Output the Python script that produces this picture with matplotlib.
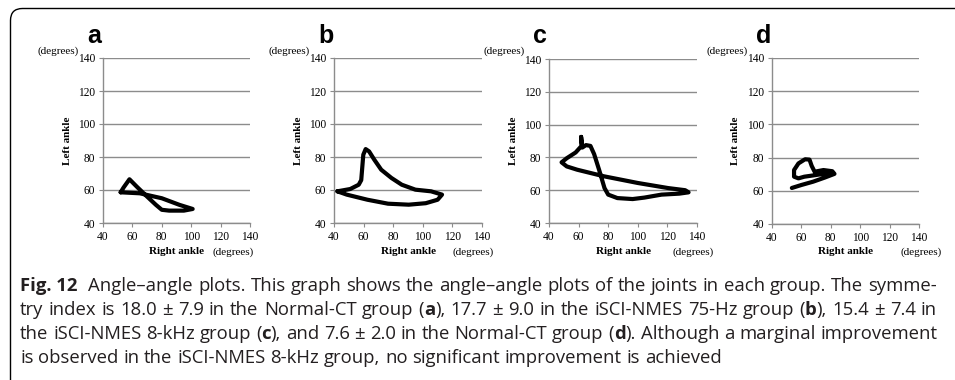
import matplotlib
matplotlib.use('Agg')
import matplotlib.pyplot as plt
from matplotlib.patches import FancyBboxPatch
from matplotlib.transforms import IdentityTransform

# angle-angle loops (right ankle, left ankle) in degrees
a_right = [52, 65, 80, 92, 101, 95, 85, 80, 76, 70, 63, 58, 56, 54, 52]
a_left = [58.6, 58, 55, 51, 48.5, 47.5, 47.5, 48, 51, 56, 62, 66.5, 64, 61.5, 58.6]

b_right = [42.3, 51, 56.7, 58.4, 59.8, 61.4, 63.7, 67.2, 71.9, 78.8, 85.8, 95, 105.6, 113,
           110, 102, 90.5, 76.5, 62.6, 48.6, 42.3]
b_left = [59.2, 60.6, 63.2, 66, 81.4, 84.8, 83.4, 78.4, 72.3, 67.3, 63.2, 60.2, 59.2, 57.2,
          54.1, 52, 51.1, 51.7, 54.1, 57.2, 59.2]

c_right = [61.7, 62, 58, 52, 48.5, 52, 59, 77, 100, 120.5, 132, 134.3, 128, 116, 104.5, 96.5,
           86.2, 80, 77.5, 74, 70.5, 68, 65, 62.5, 61.7]
c_left = [92.5, 87, 83, 79.5, 77, 74.5, 72.5, 68.5, 64.4, 61.3, 60, 58.7, 57.9, 57.3, 55.5, 54.6,
          55.2, 57.3, 61.3, 72, 82, 87, 87.5, 86, 92.5]

d_right = [53.5, 60, 68, 76, 82.5, 81, 75, 69, 67, 65.5, 62.5, 58, 55, 55, 58, 62, 66, 72, 80]
d_left = [61.7, 63.5, 65.5, 68, 70.2, 71.8, 72.5, 71.5, 75, 78.8, 79, 76.5, 72.5, 68.5, 67.5,
          68.5, 69, 69.8, 70.5]

panel_letters = ['a', 'b', 'c', 'd']
panel_data = [(a_right, a_left), (b_right, b_left), (c_right, c_left), (d_right, d_left)]
ticks = [40, 60, 80, 100, 120, 140]

cap_lines = [
    "*Fig.\u00a012* Angle–angle plots. This graph shows the angle–angle plots of the joints in each group. The symme-",
    "try index is 18.0 ± 7.9 in the Normal-CT group (*a*), 17.7 ± 9.0 in the iSCI-NMES 75-Hz group (*b*), 15.4 ± 7.4 in",
    "the iSCI-NMES 8-kHz group (*c*), and 7.6 ± 2.0 in the Normal-CT group (*d*). Although a marginal improvement",
    "is observed in the iSCI-NMES 8-kHz group, no significant improvement is achieved",
]

W, H = 955, 380
fig = plt.figure(figsize=(W / 100, H / 100), dpi=100)


def fx(x):
    return x / W


def fy(y):
    return 1 - y / H


# axes boxes in pixels: left, top, right, bottom
boxes = [(103, 58, 250, 223), (334, 58, 482, 223), (549, 59, 697, 223), (772, 58, 919, 224)]
deg_x = [212, 452, 672, 900]
serif = 'Liberation Serif'
grey = '#8c8c8c'

for k, (l, t, r, b) in enumerate(boxes):
    ax = fig.add_axes([fx(l), fy(b), (r - l) / W, (b - t) / H])
    xs, ys = panel_data[k]
    ax.plot(xs, ys, color='black', lw=3.0, solid_joinstyle='round', solid_capstyle='round')
    ax.set_xlim(40, 140)
    ax.set_ylim(40, 140)
    ax.set_xticks(ticks)
    ax.set_yticks(ticks)
    ax.yaxis.grid(True, color=grey, lw=1.0)
    ax.set_axisbelow(True)
    for s in ['top', 'right']:
        ax.spines[s].set_visible(False)
    for s in ['left', 'bottom']:
        ax.spines[s].set_color(grey)
        ax.spines[s].set_linewidth(1.0)
    ax.tick_params(direction='out', length=3, width=0.8, color=grey, labelsize=8.3, pad=2.5)
    for lab in ax.get_xticklabels() + ax.get_yticklabels():
        lab.set_fontfamily(serif)

    fig.text(fx(l - 24), fy(51), '(degrees)', family=serif, fontsize=8, ha='right', va='center')
    fig.text(fx(l - 36), fy((t + b) / 2), 'Left ankle', family=serif, fontsize=8, weight='bold',
             rotation=90, ha='center', va='center')
    fig.text(fx((l + r) / 2), fy(252), 'Right ankle', family=serif, fontsize=8, weight='bold',
             ha='center', va='center')
    fig.text(fx(deg_x[k]), fy(252), '(degrees)', family=serif, fontsize=8, ha='left', va='center')
    fig.text(fx(l - 16), fy(43), panel_letters[k], family='Liberation Sans', fontsize=18,
             weight='bold', ha='left', va='baseline')

# border of the figure box (rounded top-left corner)
box = FancyBboxPatch((10.5, -30), 1100, 401.5, boxstyle='round,pad=0,rounding_size=12',
                     transform=IdentityTransform(), fill=False, lw=1.0, ec='black')
fig.add_artist(box)

# caption, justified word by word
cap_font = ['Open Sans', 'DejaVu Sans']
x0, x1 = 20, 937
last_end = 720
baselines = [291, 315, 339, 363]
renderer = fig.canvas.get_renderer()

# size the caption font so the last (unjustified) line has the width seen in the figure
probe = fig.text(0, 0, cap_lines[-1], fontsize=10, family=cap_font)
cap_fs = 10 * (last_end - x0) / probe.get_window_extent(renderer).width
probe.remove()

sp = fig.text(0, 0, 'a a', fontsize=cap_fs, family=cap_font)
sp2 = fig.text(0, 0, 'aa', fontsize=cap_fs, family=cap_font)
space_w = sp.get_window_extent(renderer).width - sp2.get_window_extent(renderer).width
sp.remove()
sp2.remove()

for li, line in enumerate(cap_lines):
    words = []
    for w in line.split(' '):
        parts = w.split('*')
        segs = []
        for i, p in enumerate(parts):
            if not p:
                continue
            t = fig.text(0, fy(baselines[li]), p.replace('\u00a0', ' '), fontsize=cap_fs,
                         family=cap_font, weight='bold' if i % 2 == 1 else 'normal',
                         ha='left', va='baseline', color='#231f20')
            segs.append((t, t.get_window_extent(renderer).width))
        words.append(segs)
    total = sum(wd for segs in words for _, wd in segs)
    extra = 6 if li == 0 else 0
    if li < len(cap_lines) - 1:
        gap = (x1 - x0 - total - extra) / (len(words) - 1)
    else:
        gap = space_w
    x = x0
    for wi, segs in enumerate(words):
        for t, wd in segs:
            t.set_x(fx(x))
            x += wd
        x += gap + (extra if wi == 0 else 0)

fig.savefig('out.png', dpi=100)
